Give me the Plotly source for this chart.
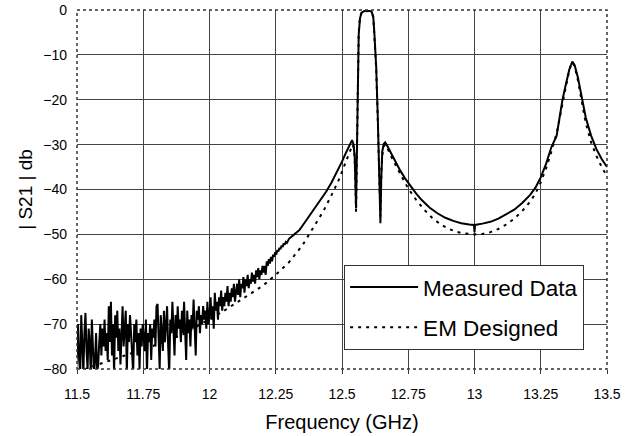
import plotly.graph_objects as go

# ---------------- data ----------------
# Measured data, noisy low-frequency part: sampled every 4 MHz starting at 11.484 GHz
noisy_start = 11.484
noisy_step = 0.004
measured_noisy_db = [
    -74, -79, -72, -81, -76,
    -70, -78, -81, -68, -74, -81, -72, -67.5, -76, -80, -71, -74, -81, -69, -75, -81, -78, -72, -81, -79, -74, -70, -77, -71, -75,
    -69, -76, -72, -78, -66, -74, -65, -77, -70, -81, -68, -73, -67, -76, -71, -79, -69, -66, -75, -72, -67, -81, -70, -74, -68,
    -72, -76, -81, -70, -74, -69, -77, -72, -80, -71, -75, -70, -73, -76, -69, -81, -72, -74, -70, -78, -71, -73, -69, -75, -66,
    -65.5, -73, -80, -68, -71, -76, -67, -74, -70, -66, -75, -81, -69, -72, -65, -70, -77, -68, -73, -66, -71, -69, -74, -67, -72,
    -65, -70, -78, -67, -72, -69, -75, -68, -71, -64.5, -70, -77, -67, -69, -66, -72, -68, -70, -66, -69, -67, -71, -65, -70, -68,
    -64, -69, -66, -71, -63, -67, -65, -69, -64, -66, -62.5, -67, -64, -66, -63, -65, -61.5, -66, -63, -65, -62, -64, -61, -65, -62,
    -61, -63.5, -60, -64, -61, -62, -59.5, -63, -60, -61.5, -59, -62, -60, -61, -58.5, -60.5, -59, -61, -58, -59.5, -57.5, -60, -58, -59, -57,
    -58.5, -57, -59, -56, -57, -55.5, -56.5, -55, -56, -54.5, -55, -54, -54.5, -53.5, -53.8, -53, -53.3, -52.5, -52.8, -52, -52.3, -51.7, -51.9, -51.3, -51,
]

# Measured data, smooth part (frequency GHz, |S21| dB)
measured_freq_hi = [
    12.32, 12.34, 12.36, 12.38, 12.40, 12.42, 12.44, 12.46, 12.48, 12.50, 12.515, 12.53, 12.538, 12.544, 12.548,
    12.553, 12.556, 12.559, 12.563, 12.568, 12.574, 12.585, 12.60, 12.612, 12.618, 12.622, 12.629, 12.635, 12.641,
    12.645, 12.648, 12.652, 12.658, 12.663, 12.67, 12.68, 12.69, 12.70, 12.72, 12.74, 12.76, 12.78, 12.80, 12.83,
    12.86, 12.89, 12.92, 12.95, 12.98, 12.998, 13.0, 13.002, 13.03, 13.06, 13.09, 13.12, 13.15, 13.18, 13.21, 13.23,
    13.25, 13.27, 13.29, 13.31, 13.32, 13.332, 13.345, 13.358, 13.369, 13.378, 13.39, 13.40, 13.41, 13.42, 13.44,
    13.46, 13.48, 13.50,
]
measured_db_hi = [
    -50.0, -49.0, -47.3, -45.6, -44.0, -42.3, -40.5, -38.5, -36.2, -33.8, -31.8, -29.8, -29.0, -30.0, -33.0,
    -44.2, -30.0, -15.0, -5.5, -1.8, -0.6, -0.2, -0.1, -0.4, -1.5, -5.0, -12.6, -23.8, -35.0,
    -47.5, -38.0, -31.5, -29.8, -29.5, -30.2, -31.3, -32.6, -33.8, -35.8, -37.7, -39.4, -40.9, -42.3, -44.0,
    -45.3, -46.3, -47.0, -47.5, -47.8, -47.9, -49.5, -47.9, -47.6, -47.2, -46.5, -45.5, -44.5, -43.0, -41.2, -39.6,
    -37.3, -34.3, -30.6, -28.0, -24.5, -20.0, -16.5, -13.2, -11.5, -12.3, -15.0, -17.8, -21.0, -24.0, -28.0,
    -31.0, -33.2, -35.0,
]

# EM designed response
em_freq = [
    11.50, 11.60, 11.70, 11.80, 11.90, 12.00, 12.05, 12.10, 12.15, 12.20, 12.25, 12.30, 12.35, 12.40, 12.43,
    12.46, 12.49, 12.51, 12.53, 12.54, 12.546, 12.550, 12.553, 12.556, 12.559, 12.563, 12.568, 12.575, 12.60,
    12.612, 12.618, 12.622, 12.629, 12.635, 12.641, 12.645, 12.649, 12.655, 12.663, 12.67, 12.69, 12.72, 12.75,
    12.78, 12.81, 12.84, 12.87, 12.90, 12.93, 12.96, 13.00, 13.03, 13.06, 13.09, 13.12, 13.15, 13.18, 13.21,
    13.23, 13.25, 13.27, 13.29, 13.31, 13.33, 13.345, 13.358, 13.369, 13.378, 13.39, 13.40, 13.41, 13.42, 13.44,
    13.46, 13.48, 13.50,
]
em_db = [
    -80.6, -78.6, -76.7, -74.6, -72.3, -69.0, -67.2, -65.3, -63.4, -61.5, -59.0, -56.2, -52.5, -47.8, -44.8,
    -41.3, -37.6, -34.5, -31.3, -30.0, -31.0, -36.0, -45.0, -30.0, -15.0, -5.0, -1.5, -0.4, -0.2,
    -0.5, -1.7, -5.5, -13.0, -24.5, -36.0, -46.0, -35.0, -30.5, -30.0, -30.6, -33.2, -36.6, -39.8,
    -42.3, -44.5, -46.3, -47.7, -48.7, -49.4, -49.8, -50.0, -49.9, -49.5, -48.8, -47.8, -46.5, -44.8, -42.7,
    -40.9, -38.4, -35.3, -31.6, -27.5, -21.5, -16.8, -13.3, -11.6, -12.6, -15.6, -18.5, -22.0, -25.2, -29.5,
    -32.5, -35.0, -37.0,
]

x_tick_vals = [11.5, 11.75, 12.0, 12.25, 12.5, 12.75, 13.0, 13.25, 13.5]
x_tick_text = ["11.5", "11.75", "12", "12.25", "12.5", "12.75", "13", "13.25", "13.5"]
y_tick_vals = [0, -10, -20, -30, -40, -50, -60, -70, -80]

# ---------------- figure ----------------
measured_freq = [noisy_start + i * noisy_step for i in range(len(measured_noisy_db))] + measured_freq_hi
measured_db = measured_noisy_db + measured_db_hi

FONT = "Liberation Sans, Arial, sans-serif"

fig = go.Figure()
fig.add_trace(go.Scatter(
    x=measured_freq, y=measured_db, mode="lines", name="Measured Data",
    line=dict(color="black", width=2), legendgroup="a",
))
fig.add_trace(go.Scatter(
    x=em_freq, y=em_db, mode="lines", name="EM Designed",
    line=dict(color="black", width=2, dash="3px,5px"), legendgroup="b",
))

fig.update_layout(
    width=630, height=436,
    margin=dict(l=77, r=23, t=10, b=67, autoexpand=False),
    paper_bgcolor="white", plot_bgcolor="white",
    font=dict(family=FONT, color="black", size=14),
    showlegend=True,
    legend=dict(
        x=0.504, y=0.29, xanchor="left", yanchor="top",
        bgcolor="white", bordercolor="#333", borderwidth=1,
        font=dict(family=FONT, size=22.5, color="black"),
        itemwidth=68, tracegroupgap=8, traceorder="grouped",
    ),
    xaxis=dict(
        range=[11.5, 13.5], tickvals=x_tick_vals, ticktext=x_tick_text,
        showgrid=True, gridcolor="#444", gridwidth=1,
        zeroline=False, showline=False, automargin=False,
        ticks="outside", ticklen=4, tickcolor="#333",
        ticklabelstandoff=8,
        tickfont=dict(family=FONT, size=14),
        title=dict(text="Frequency (GHz)", font=dict(family=FONT, size=20), standoff=14),
    ),
    yaxis=dict(
        range=[-80, 0], tickvals=y_tick_vals,
        showgrid=True, gridcolor="#444", gridwidth=1,
        zeroline=False, showline=False, automargin=False,
        ticks="", ticklabelstandoff=9,
        tickfont=dict(family=FONT, size=14),
        title=dict(text="| S21 | db", font=dict(family=FONT, size=19), standoff=5),
    ),
    shapes=[dict(
        type="rect", xref="paper", yref="paper", x0=0, y0=0, x1=1, y1=1,
        line=dict(color="#333", width=1.5, dash="dot"), layer="above",
    )],
)

fig.write_html(
    "out.html",
    config={"displayModeBar": False},
    post_script="document.body.style.margin='0';document.body.style.overflow='hidden';",
)
